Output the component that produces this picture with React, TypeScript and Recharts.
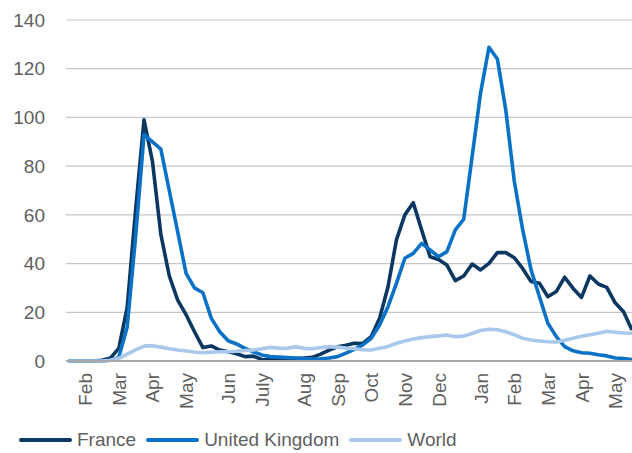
import React from "react";
import { LineChart, Line, XAxis, YAxis, CartesianGrid } from "recharts";

const france = [
  0, 0, 0, 0, 0.3, 1.2, 5.2, 22, 62, 99,
  82, 52, 35, 25, 19, 12, 5.5, 6.2, 4.5, 3.8,
  3, 1.8, 2, 0.6, 0.5, 0.7, 0.8, 1, 1.2, 1.5,
  2.8, 4.5, 5.8, 6.5, 7.3, 7.2, 10, 17.5, 30.5, 49.7,
  60, 65, 53.8, 42.8, 41.7, 39.4, 33, 34.9, 39.8, 37.4,
  40.1, 44.5, 44.5, 42.4, 38, 32.6, 31.9, 26.4, 28.5, 34.4,
  29.8, 26.1, 34.9, 31.6, 30.2, 23.9, 20.2, 12.7,
];

const unitedKingdom = [
  0, 0, 0, 0, 0, 0.3, 1.5, 14, 51, 93,
  90, 87, 70, 53, 36, 30, 28, 17.5, 12, 8.3,
  7, 5.2, 3.8, 2.5, 1.8, 1.6, 1.4, 1.2, 1.0, 0.8,
  0.9, 1.2, 1.8, 3.2, 4.8, 6.6, 9.3, 14.8, 22.3, 31.9,
  42.2, 44.2, 48.3, 45.6, 42.8, 44.9, 53.8, 58.2, 84, 110,
  128.8, 124, 103, 74, 54, 37.4, 26.4, 15.5, 10, 5.9,
  4.2, 3.4, 3.2, 2.6, 2.1, 1.2, 1.0, 0.6,
];

const world = [
  0, 0, 0, 0, 0, 0.3, 1.1, 2.8, 4.6, 6.1,
  6.3, 5.7, 5.0, 4.5, 4.1, 3.7, 3.4, 3.6, 3.8, 3.8,
  4.0, 4.3, 4.5, 5.0, 5.6, 5.3, 5.2, 5.8, 5.2, 5.0,
  5.5, 5.9, 5.7, 5.3, 5.0, 4.6, 4.5, 5.2, 6.0, 7.3,
  8.2, 9.0, 9.6, 10.0, 10.3, 10.7, 10.0, 10.2, 11.3, 12.5,
  13.0, 12.8, 12.0, 10.8, 9.3, 8.6, 8.2, 7.9, 7.8, 8.5,
  9.3, 10.2, 10.8, 11.4, 12.2, 11.8, 11.5, 11.4,
];

const tickWeeks = [2, 6, 10, 14, 19, 23, 28, 32, 36, 40, 44, 49, 53, 57, 61, 65];
const tickLabels = ["Feb", "Mar", "Apr", "May", "Jun", "July", "Aug", "Sep", "Oct", "Nov", "Dec", "Jan", "Feb", "Mar", "Apr", "May"];
const yTicks = [0, 20, 40, 60, 80, 100, 120, 140];

const seriesNames = ["France", "United Kingdom", "World"];
const seriesColors = ["#0c3761", "#0a72c6", "#a9c8ec"];

const data = france.map((v, i) => ({
  week: i,
  France: v,
  "United Kingdom": unitedKingdom[i],
  World: world[i],
}));

const FONT = "'Liberation Sans', Arial, Helvetica, sans-serif";
const TEXT = "#5f5f5f";

const XTick = (props: any) => {
  const { x, y, payload } = props;
  const idx = tickWeeks.indexOf(payload.value);
  return (
    <g transform={`translate(${x},${y}) rotate(-90)`}>
      <text textAnchor="end" dy="0.37em" fill={TEXT} fontSize={19} fontFamily={FONT}>
        {tickLabels[idx]}
      </text>
    </g>
  );
};

export default function App() {
  return (
    <div style={{ position: "absolute", left: 0, top: 0, width: 632, height: 453, background: "#fff", overflow: "hidden" }}>
      <LineChart
        width={632}
        height={453}
        data={data}
        margin={{ top: 20, right: 0, bottom: 0, left: 0 }}
      >
        <CartesianGrid vertical={false} stroke="#c6c6c6" strokeWidth={1.2} />
        <XAxis
          dataKey="week"
          type="number"
          domain={[0, 67]}
          ticks={tickWeeks}
          interval={0}
          height={92}
          padding={{ left: 2.3, right: 0 }}
          tickLine={false}
          tickSize={0}
          tickMargin={12}
          axisLine={{ stroke: "#a8a8a8", strokeWidth: 2 }}
          tick={<XTick />}
        />
        <YAxis
          width={66}
          domain={[0, 140]}
          ticks={yTicks}
          axisLine={false}
          tickLine={false}
          tickSize={0}
          tickMargin={21}
          tick={{ fill: TEXT, fontSize: 19, fontFamily: FONT }}
        />
        {seriesNames.map((name, k) => (
          <Line
            key={name}
            type="linear"
            dataKey={name}
            stroke={seriesColors[k]}
            strokeWidth={3.6}
            strokeLinejoin="round"
            dot={false}
            activeDot={false}
            isAnimationActive={false}
          />
        ))}
      </LineChart>
      <div
        style={{
          position: "absolute",
          left: 19,
          top: 429,
          height: 22,
          display: "flex",
          alignItems: "center",
          fontFamily: FONT,
          fontSize: 19,
          color: TEXT,
          whiteSpace: "nowrap",
        }}
      >
        {seriesNames.map((name, k) => (
          <div key={name} style={{ display: "flex", alignItems: "center", marginRight: 10 }}>
            <div style={{ width: 53, height: 4, borderRadius: 2, background: seriesColors[k], marginRight: 5 }} />
            <span>{name}</span>
          </div>
        ))}
      </div>
    </div>
  );
}
